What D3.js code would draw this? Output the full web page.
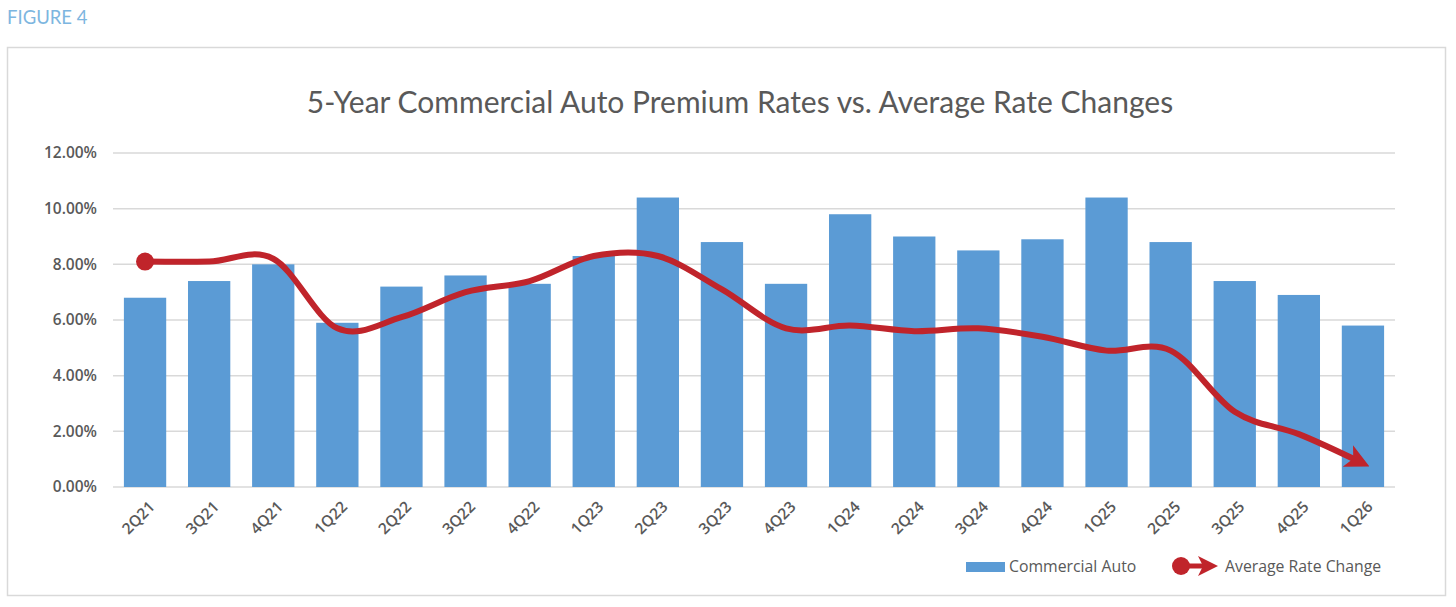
<!DOCTYPE html>
<html>
<head>
<meta charset="utf-8">
<script src="https://cdn.jsdelivr.net/npm/d3@7"></script>
<style>
  body { margin: 0; background: #fff; }
  svg { display: block; }
</style>
</head>
<body>
<svg id="chart"></svg>
<script>
// Data
const quarters = ['2Q21', '3Q21', '4Q21', '1Q22', '2Q22', '3Q22', '4Q22', '1Q23', '2Q23', '3Q23',
                  '4Q23', '1Q24', '2Q24', '3Q24', '4Q24', '1Q25', '2Q25', '3Q25', '4Q25', '1Q26'];
const commercialAuto = [6.8, 7.4, 8.0, 5.9, 7.2, 7.6, 7.3, 8.3, 10.4, 8.8,
                        7.3, 9.8, 9.0, 8.5, 8.9, 10.4, 8.8, 7.4, 6.9, 5.8];
const avgRateChange = [8.1, 8.1, 8.2, 5.7, 6.1, 7.0, 7.4, 8.3, 8.3, 7.1,
                       5.7, 5.8, 5.6, 5.7, 5.4, 4.9, 4.9, 2.7, 1.9, 0.85];
const yTicks = [0, 2, 4, 6, 8, 10, 12];

const W = 1456, H = 607;
const plot = { left: 113, right: 1395, top: 153, bottom: 487 };
const barColor = '#5b9bd5';
const lineColor = '#c0242b';
const textColor = '#595959';

const svg = d3.select('#chart').attr('width', W).attr('height', H);

// Figure label and frame
svg.append('text')
    .attr('x', 7).attr('y', 24)
    .attr('font-family', 'Lato, sans-serif')
    .attr('font-size', 18.5)
    .attr('fill', '#7db6e0')
    .text('FIGURE 4');

svg.append('rect')
    .attr('x', 7.5).attr('y', 47.5)
    .attr('width', 1438).attr('height', 548)
    .attr('fill', 'none')
    .attr('stroke', '#d9d9d9')
    .attr('stroke-width', 1.5);

svg.append('text')
    .attr('x', 740).attr('y', 113)
    .attr('text-anchor', 'middle')
    .attr('font-family', 'Lato, sans-serif')
    .attr('font-size', 30)
    .attr('fill', textColor)
    .text('5-Year Commercial Auto Premium Rates vs. Average Rate Changes');

// Scales
const x = d3.scaleBand().domain(quarters).range([plot.left, plot.right]).paddingInner(0.34).paddingOuter(0.17);
const y = d3.scaleLinear().domain([0, 12]).range([plot.bottom, plot.top]);

// Gridlines
svg.append('g')
    .selectAll('line')
    .data(yTicks)
    .join('line')
    .attr('x1', plot.left).attr('x2', plot.right)
    .attr('y1', d => y(d)).attr('y2', d => y(d))
    .attr('stroke', '#d9d9d9')
    .attr('stroke-width', 1.5);

// Y labels
svg.append('g')
    .selectAll('text')
    .data(yTicks)
    .join('text')
    .attr('x', 97)
    .attr('y', d => y(d))
    .attr('dy', '0.35em')
    .attr('text-anchor', 'end')
    .attr('font-family', '"Open Sans", sans-serif')
    .attr('font-weight', 600)
    .attr('font-size', 15.5)
    .attr('fill', textColor)
    .text(d => d.toFixed(2) + '%');

// Bars
svg.append('g')
    .selectAll('rect')
    .data(quarters)
    .join('rect')
    .attr('x', d => x(d))
    .attr('width', x.bandwidth())
    .attr('y', (d, i) => y(commercialAuto[i]))
    .attr('height', (d, i) => y(0) - y(commercialAuto[i]))
    .attr('fill', barColor);

// X labels
svg.append('g')
    .selectAll('text')
    .data(quarters)
    .join('text')
    .attr('transform', d => `translate(${x(d) + x.bandwidth() / 2 + 7},${plot.bottom + 17}) rotate(-45)`)
    .attr('text-anchor', 'end')
    .attr('dy', '0.35em')
    .attr('font-family', '"Open Sans", sans-serif')
    .attr('font-weight', 600)
    .attr('font-size', 15.5)
    .attr('fill', textColor)
    .text(d => d);

// Arrow marker
const defs = svg.append('defs');
defs.append('marker')
    .attr('id', 'arrow')
    .attr('viewBox', '0 0 10 10')
    .attr('refX', 7).attr('refY', 5)
    .attr('markerWidth', 4).attr('markerHeight', 4)
    .attr('markerUnits', 'strokeWidth')
    .attr('orient', 'auto')
    .append('path')
    .attr('d', 'M0,0 L10,5 L0,10 L2.5,5 Z')
    .attr('fill', lineColor);

// Smoothed line
const line = d3.line()
    .x((d, i) => x(quarters[i]) + x.bandwidth() / 2)
    .y(d => y(d))
    .curve(d3.curveCardinal.tension(0));

svg.append('path')
    .datum(avgRateChange)
    .attr('d', line)
    .attr('fill', 'none')
    .attr('stroke', lineColor)
    .attr('stroke-width', 6)
    .attr('stroke-linecap', 'butt')
    .attr('marker-end', 'url(#arrow)');

svg.append('circle')
    .attr('cx', x(quarters[0]) + x.bandwidth() / 2)
    .attr('cy', y(avgRateChange[0]))
    .attr('r', 9)
    .attr('fill', lineColor);

// Legend
const legend = svg.append('g').attr('font-family', '"Open Sans", sans-serif')
    .attr('font-size', 15.8).attr('fill', textColor);

legend.append('rect')
    .attr('x', 966).attr('y', 562).attr('width', 39).attr('height', 10)
    .attr('fill', barColor);
legend.append('text')
    .attr('x', 1009).attr('y', 566).attr('dy', '0.35em')
    .text('Commercial Auto');

legend.append('line')
    .attr('x1', 1182).attr('x2', 1212).attr('y1', 566).attr('y2', 566)
    .attr('stroke', lineColor).attr('stroke-width', 5)
    .attr('marker-end', 'url(#arrow)');
legend.append('circle')
    .attr('cx', 1181).attr('cy', 566).attr('r', 9)
    .attr('fill', lineColor);
legend.append('text')
    .attr('x', 1225).attr('y', 566).attr('dy', '0.35em')
    .text('Average Rate Change');
</script>
</body>
</html>
